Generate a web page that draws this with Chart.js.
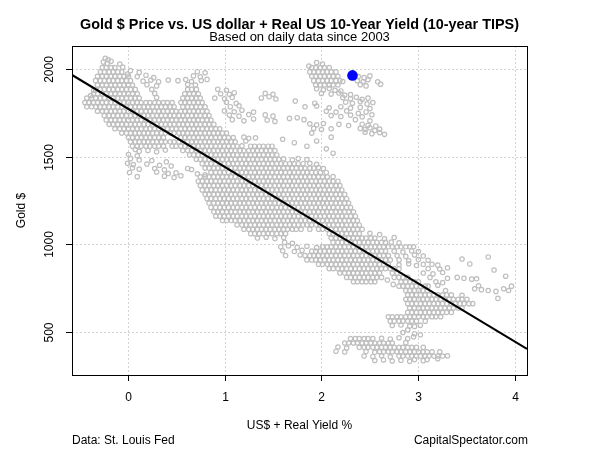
<!DOCTYPE html>
<html>
<head>
<meta charset="utf-8">
<script src="https://cdn.jsdelivr.net/npm/chart.js@4.4.1/dist/chart.umd.min.js"></script>
<style>
  html, body { margin: 0; padding: 0; background: #fff; }
</style>
</head>
<body>
<canvas id="gold_chart" width="600" height="450"></canvas>
<script>
// axes
const xTicks = [0, 1, 2, 3, 4];
const yTicks = [500, 1000, 1500, 2000];
const xRange = [-0.573, 4.12];
const yRange = [252, 2133];

// regression line + latest reading
const fitIntercept = 1776;
const fitSlope = -333.7;
const latestYield = [2.32];
const latestGold = [1965];

// dense part of the cloud, read row by row (gold level -> yields)
const rowGold = [2010, 1985, 1960, 1935, 1910, 1885, 1860, 1835, 1810, 1785, 1760, 1735, 1710, 1685, 1660, 1635, 1610, 1585, 1560, 1535,
  1510, 1485, 1460, 1435, 1410, 1385, 1360, 1335, 1310, 1285, 1260, 1235, 1210, 1185, 1160, 1135, 1110, 1085, 1060, 1035,
  1010, 985, 960, 935, 910, 885, 860, 835, 810, 785, 760, 735, 710, 685, 660, 635, 610, 585, 560, 460, 435, 410, 385, 360];
const rowYield = [
  [-0.26,-0.22,-0.17,-0.13,1.9,1.94,1.99,2.03,2.08],
  [-0.28,-0.24,-0.19,-0.15,-0.1,-0.06,1.88,1.92,1.97,2.01,2.06,2.1,2.15],
  [-0.31,-0.26,-0.22,-0.17,-0.13,-0.08,-0.04,0.01,1.9,1.94,1.99,2.03,2.08,2.12,2.17],
  [-0.33,-0.28,-0.24,-0.19,-0.15,-0.1,-0.06,-0.01,0.03,1.92,1.97,2.01,2.06,2.1,2.15,2.19],
  [-0.31,-0.26,-0.22,-0.17,-0.13,-0.08,-0.04,0.01,0.05,1.94,1.99,2.03,2.08,2.12],
  [-0.33,-0.28,-0.24,-0.19,-0.15,-0.1,-0.06,-0.01,0.03,0.08,0.62,0.66,0.71],
  [-0.35,-0.31,-0.26,-0.22,-0.17,-0.13,-0.08,-0.04,0.01,0.05,0.1,0.59,0.64,0.68,0.73],
  [-0.42,-0.37,-0.33,-0.28,-0.24,-0.19,-0.15,-0.1,-0.06,-0.01,0.03,0.08,0.12,0.57,0.62,0.66,0.71,0.75],
  [-0.44,-0.4,-0.35,-0.31,-0.26,-0.22,-0.17,-0.13,-0.08,-0.04,0.01,0.05,0.1,0.14,0.19,0.23,0.28,0.32,0.37,0.41,0.46,0.55,0.59,0.64,0.68,0.73,0.77],
  [-0.42,-0.37,-0.33,-0.28,-0.24,-0.19,-0.15,-0.1,-0.06,-0.01,0.03,0.08,0.12,0.17,0.21,0.26,0.3,0.35,0.39,0.44,0.48,0.57,0.62,0.66,0.71,0.75,0.8],
  [-0.31,-0.26,-0.22,-0.17,-0.13,-0.08,-0.04,0.01,0.05,0.1,0.14,0.19,0.23,0.28,0.32,0.37,0.41,0.46,0.5,0.55,0.59,0.64,0.68,0.73,0.77,0.82],
  [-0.24,-0.19,-0.15,-0.1,-0.06,-0.01,0.03,0.08,0.12,0.17,0.21,0.26,0.3,0.35,0.39,0.44,0.48,0.53,0.57,0.62,0.66,0.71,0.75,0.8,0.84],
  [-0.22,-0.17,-0.13,-0.08,-0.04,0.01,0.05,0.1,0.14,0.19,0.23,0.28,0.32,0.37,0.41,0.46,0.5,0.55,0.59,0.64,0.68,0.73,0.77,0.82,0.86],
  [-0.19,-0.15,-0.1,-0.06,-0.01,0.03,0.08,0.12,0.17,0.21,0.26,0.3,0.35,0.39,0.44,0.48,0.53,0.57,0.62,0.66,0.71,0.75,0.8,0.84,0.89],
  [-0.13,-0.08,-0.04,0.01,0.05,0.1,0.14,0.19,0.23,0.28,0.32,0.37,0.41,0.46,0.5,0.55,0.59,0.64,0.68,0.73,0.77,0.82,0.86,0.91,0.95],
  [-0.06,-0.01,0.03,0.08,0.12,0.17,0.21,0.26,0.3,0.35,0.39,0.44,0.48,0.53,0.57,0.62,0.66,0.71,0.75,0.8,0.84,0.89,0.93,0.98,1.02],
  [0.01,0.05,0.1,0.14,0.19,0.23,0.28,0.32,0.37,0.55,0.59,0.64,0.68,0.73,0.77,0.82,0.86,0.91,0.95,1.0,1.04,1.09],
  [0.03,0.08,0.12,0.17,0.21,0.26,0.3,0.35,0.39,0.44,0.48,0.53,0.57,0.62,0.66,0.71,0.75,0.8,0.84,0.89,0.93,0.98,1.02,1.07,1.11],
  [0.05,0.1,0.14,0.19,0.23,0.28,0.32,0.37,0.46,0.5,0.55,0.59,0.64,0.68,0.73,0.77,0.82,0.86,0.91,0.95,1.0,1.04,1.09,1.13,1.27,1.31,1.36,1.4,1.45,1.49],
  [0.57,0.62,0.66,0.71,0.75,0.8,0.84,0.89,0.93,0.98,1.02,1.07,1.11,1.16,1.2,1.25,1.29,1.34,1.38,1.43,1.47,1.52],
  [0.64,0.68,0.73,0.77,0.82,0.86,0.91,0.95,1.0,1.04,1.09,1.13,1.18,1.22,1.27,1.31,1.36,1.4,1.45,1.49,1.54],
  [0.71,0.75,0.8,0.84,0.89,0.93,0.98,1.02,1.07,1.11,1.16,1.2,1.25,1.29,1.34,1.38,1.43,1.47,1.52,1.56],
  [0.77,0.82,0.86,0.91,0.95,1.0,1.04,1.09,1.13,1.18,1.22,1.27,1.31,1.36,1.4,1.45,1.49,1.54,1.58,1.63,1.67,1.72,1.76,1.81],
  [0.8,0.84,0.89,0.93,0.98,1.02,1.07,1.11,1.16,1.2,1.25,1.29,1.34,1.38,1.43,1.47,1.52,1.56,1.61,1.65,1.7,1.74,1.79,1.83,1.88,1.92],
  [0.86,0.91,0.95,1.0,1.04,1.09,1.13,1.18,1.22,1.27,1.31,1.36,1.4,1.45,1.49,1.54,1.58,1.63,1.67,1.72,1.76,1.81,1.85,1.9,1.94,1.99],
  [0.75,0.8,0.84,0.89,0.93,0.98,1.02,1.07,1.11,1.16,1.2,1.25,1.29,1.34,1.38,1.43,1.47,1.52,1.56,1.61,1.65,1.7,1.74,1.79,1.83,1.88,1.92,1.97,2.01,2.06],
  [0.73,0.77,0.82,0.86,0.91,0.95,1.0,1.04,1.09,1.13,1.18,1.22,1.27,1.31,1.36,1.4,1.45,1.49,1.54,1.58,1.63,1.67,1.72,1.76,1.81,1.85,1.9,1.94,1.99,2.03,2.08,2.12,2.17],
  [0.75,0.8,0.84,0.89,0.93,0.98,1.02,1.07,1.11,1.16,1.2,1.25,1.29,1.34,1.38,1.43,1.47,1.52,1.56,1.61,1.65,1.7,1.74,1.79,1.83,1.88,1.92,1.97,2.01,2.06,2.1,2.15,2.19],
  [0.77,0.82,0.86,0.91,0.95,1.0,1.04,1.09,1.13,1.18,1.22,1.27,1.31,1.36,1.4,1.45,1.49,1.54,1.58,1.63,1.67,1.72,1.76,1.81,1.85,1.9,1.94,1.99,2.03,2.08,2.12,2.17,2.21],
  [0.8,0.84,0.89,0.93,0.98,1.02,1.07,1.11,1.16,1.2,1.25,1.29,1.34,1.38,1.43,1.47,1.52,1.56,1.61,1.65,1.7,1.74,1.79,1.83,1.88,1.92,1.97,2.01,2.06,2.1,2.15,2.19,2.24],
  [0.82,0.86,0.91,0.95,1.0,1.04,1.09,1.13,1.18,1.22,1.27,1.31,1.36,1.4,1.45,1.49,1.54,1.58,1.63,1.67,1.72,1.76,1.81,1.85,1.9,1.94,1.99,2.03,2.08,2.12,2.17,2.21,2.26],
  [0.84,0.89,0.93,0.98,1.02,1.07,1.11,1.16,1.2,1.25,1.29,1.34,1.38,1.43,1.47,1.52,1.56,1.61,1.65,1.7,1.74,1.79,1.83,1.88,1.92,1.97,2.01,2.06,2.1,2.15,2.19,2.24,2.28],
  [0.86,0.91,0.95,1.0,1.04,1.09,1.13,1.18,1.22,1.27,1.31,1.36,1.4,1.45,1.49,1.54,1.58,1.63,1.67,1.72,1.76,1.81,1.85,1.9,1.94,1.99,2.03,2.08,2.12,2.17,2.21,2.26,2.3],
  [0.89,0.93,0.98,1.02,1.07,1.11,1.16,1.2,1.25,1.29,1.34,1.38,1.43,1.47,1.52,1.56,1.61,1.65,1.7,1.74,1.79,1.83,1.88,1.92,1.97,2.01,2.06,2.1,2.15,2.19,2.24,2.28,2.33],
  [0.91,0.95,1.0,1.04,1.09,1.13,1.18,1.22,1.27,1.31,1.36,1.4,1.45,1.49,1.54,1.58,1.63,1.67,1.72,1.76,1.81,1.85,1.9,1.94,1.99,2.03,2.08,2.12,2.17,2.21,2.26,2.3,2.35],
  [0.98,1.02,1.07,1.11,1.16,1.2,1.25,1.29,1.34,1.38,1.43,1.47,1.52,1.56,1.61,1.65,1.7,1.74,1.79,1.83,1.88,1.92,1.97,2.01,2.06,2.1,2.15,2.19,2.24,2.28,2.33,2.37],
  [1.13,1.18,1.22,1.27,1.31,1.36,1.4,1.45,1.49,1.54,1.58,1.63,1.67,1.72,1.76,1.81,1.85,1.9,1.94,1.99,2.03,2.08,2.12,2.17,2.21,2.26,2.3,2.35,2.39],
  [1.2,1.25,1.29,1.34,1.38,1.43,1.47,1.52,1.56,1.61,1.65,1.7,1.74,1.79,1.88,1.97,2.01,2.06,2.1,2.15,2.19,2.24,2.28,2.33,2.37,2.42],
  [1.27,1.31,1.36,1.4,1.45,1.49,1.54,1.58,1.63,2.08,2.12,2.17,2.21,2.26,2.3,2.35,2.39],
  [2.1,2.15,2.19,2.24,2.28,2.33,2.37,2.42,2.46,2.51],
  [2.12,2.17,2.21,2.26,2.3,2.35,2.39,2.44,2.48,2.53,2.57,2.62,2.66],
  [2.01,2.06,2.1,2.15,2.19,2.24,2.28,2.33,2.37,2.42,2.46,2.51,2.55,2.6,2.64,2.69,2.73,2.78,2.82,2.87,2.91],
  [1.9,1.94,1.99,2.03,2.08,2.12,2.17,2.21,2.26,2.3,2.35,2.39,2.44,2.48,2.53,2.57,2.62,2.66],
  [1.83,1.88,1.92,1.97,2.01,2.06,2.1,2.15,2.19,2.24,2.28,2.33,2.37,2.42,2.46,2.51,2.55,2.6,2.64,2.69],
  [1.85,1.9,1.94,1.99,2.03,2.08,2.12,2.17,2.21,2.26,2.3,2.35,2.39,2.44,2.48,2.53,2.57,2.62,2.66,2.71],
  [1.97,2.01,2.06,2.1,2.15,2.19,2.24,2.28,2.33,2.37,2.42,2.46,2.51,2.55,2.6,2.64,2.69],
  [2.08,2.12,2.17,2.21,2.26,2.3,2.35,2.39,2.44,2.48,2.53,2.57,2.62,2.66,2.71,2.75,2.8],
  [2.19,2.24,2.28,2.33,2.37,2.42,2.46,2.51,2.55,2.6,2.73,2.78],
  [2.26,2.3,2.35,2.39,2.44,2.48,2.53,2.57,2.62,2.75,2.8,2.84,2.89],
  [2.33,2.37,2.42,2.46,2.51,2.55,2.82,2.87,2.91,2.96,3.0],
  [2.84,2.89,2.93,2.98,3.02,3.07],
  [2.87,2.91,2.96,3.0,3.05,3.09],
  [2.89,2.93,2.98,3.02,3.07,3.11,3.16,3.2,3.25,3.29,3.34],
  [2.87,2.91,2.96,3.0,3.05,3.09,3.14,3.18,3.23,3.27,3.32,3.36,3.41,3.45,3.5],
  [2.89,2.93,2.98,3.02,3.07,3.11,3.16,3.2,3.25,3.29,3.34,3.38,3.43,3.47,3.52,3.56],
  [2.91,2.96,3.0,3.05,3.09,3.14,3.18,3.23,3.27,3.32,3.36,3.41,3.45],
  [2.89,2.93,2.98,3.02,3.07,3.11,3.16,3.2,3.25,3.29,3.34],
  [2.69,2.73,2.78,2.82,2.87,2.91,2.96,3.0,3.05,3.09,3.14,3.18,3.23],
  [2.71,2.75,2.8,2.84,2.89,2.93,2.98],
  [2.3,2.35,2.39,2.44,2.48,2.53],
  [2.24,2.28,2.33,2.37,2.42,2.46,2.51,2.55,2.6,2.64,2.69,2.73],
  [2.39,2.44,2.48,2.53,2.57,2.62,2.66,2.71,2.75,2.8,2.84,2.89,2.93,2.98],
  [2.6,2.64,2.69,2.73,2.78,2.82,2.87,2.91,2.96,3.0,3.05,3.09,3.14],
  [2.8,2.84,2.89,2.93,2.98,3.02,3.07,3.11,3.16,3.2]
];

// scattered points outside the dense rows: [yield, gold]
const loosePoints = [
  [-0.23,2062],[-0.2,2054],[-0.25,2041],[-0.21,2033],[-0.17,2046],[-0.08,2030],[-0.05,2012],[0.0,1972],[0.03,1992],[0.12,1982],
  [0.1,1958],[0.19,1966],[0.27,1952],[0.16,1932],[0.24,1938],[0.32,1929],[0.2,1912],[0.3,1905],[0.25,1885],[0.28,1862],
  [0.3,1838],[0.42,1938],[0.52,1935],[0.6,1941],[0.66,1930],[0.76,1936],[0.82,1942],[0.72,1986],[0.8,1980],[0.68,1962],
  [0.75,1957],[0.7,1910],[0.62,1913],[0.93,1886],[1.02,1880],[0.96,1860],[1.05,1857],[1.1,1866],[0.9,1835],[1.0,1831],
  [1.08,1839],[1.02,1811],[1.12,1805],[1.06,1786],[1.15,1791],[1.0,1762],[1.1,1757],[1.18,1766],[1.3,1755],[1.05,1738],
  [1.15,1732],[1.25,1741],[1.08,1712],[1.2,1705],[1.3,1716],[1.42,1862],[1.5,1857],[1.38,1836],[1.46,1843],[1.53,1830],
  [1.73,1818],[1.93,1806],[1.42,1739],[1.5,1732],[1.44,1709],[1.52,1702],[1.67,1719],[1.75,1723],[1.82,1712],
  [-0.35,1880],[-0.38,1850],[1.18,1562],[1.22,1590],
  [0.01,1512],[0.1,1505],[0.03,1489],[0.12,1481],[0.25,1478],[0.4,1471],[0.0,1462],[0.06,1455],[0.2,1458],[0.33,1451],
  [0.45,1447],[0.05,1436],[0.12,1429],[0.28,1432],[0.38,1425],[0.62,1433],[0.66,1427],[0.02,1410],[0.3,1413],[0.42,1404],
  [0.5,1408],[0.72,1402],[0.8,1397],[0.1,1386],[0.38,1389],[0.48,1381],[0.55,1391],[0.08,1541],[0.12,1531],[0.21,1536],
  [0.3,1528],[0.39,1538],
  [1.95,2038],[2.01,2030],[1.87,2018],[2.38,1958],[2.44,1952],[2.5,1962],[2.37,1935],[2.43,1930],[2.48,1940],[2.58,1928],
  [2.4,1912],[2.46,1905],[2.61,1915],[2.22,1930],[2.17,1910],[1.95,1888],[2.02,1882],[2.08,1890],[2.14,1880],[2.2,1876],
  [2.0,1862],[2.1,1858],[2.18,1864],[2.24,1852],[2.3,1855],[2.22,1838],[2.3,1832],[2.36,1840],[2.42,1828],[2.48,1835],
  [2.25,1812],[2.32,1806],[2.4,1815],[2.47,1802],[2.53,1810],[1.83,1785],[1.95,1790],[2.08,1780],[2.2,1786],[2.3,1778],
  [2.4,1782],[2.5,1775],[2.05,1760],[2.15,1755],[2.26,1762],[2.38,1748],[2.46,1756],[2.1,1735],[2.2,1730],[2.3,1738],
  [2.42,1728],[2.52,1740],[2.35,1712],[2.5,1705],[1.88,1688],[1.95,1682],[2.02,1690],[2.18,1685],[2.28,1678],[2.42,1686],
  [2.48,1680],[2.56,1676],[1.92,1662],[2.0,1655],[2.1,1660],[2.4,1662],[2.45,1655],[2.5,1665],[2.55,1650],[2.6,1658],
  [1.9,1635],[2.45,1640],[2.52,1632],[2.6,1638],[2.65,1628],[2.1,1612],[1.2,1612],[1.25,1605],[1.32,1608],
  [1.61,1488],[1.7,1482],[1.76,1490],[1.85,1484],[1.88,1462],[1.95,1456],[1.97,1438],[2.02,1432],[2.05,1410],[2.12,1386],
  [1.6,1600],[1.72,1580],[1.85,1560],[1.95,1590],[2.05,1545],[2.12,1520],
  [2.5,1062],[2.6,1055],[1.34,1035],[1.43,1040],[1.52,1032],[1.61,1038],[2.55,1035],[2.65,1030],[2.75,1038],[1.62,1010],
  [1.7,1005],[2.72,1012],[2.8,1008],[1.58,985],[1.66,990],[1.75,982],[1.85,988],[1.95,980],[2.95,985],[1.6,962],
  [1.72,958],[1.8,965],[2.75,960],[2.84,955],[2.93,962],[3.0,958],[1.63,935],[1.78,938],[2.78,935],[2.87,930],
  [2.96,938],[3.05,932],[2.8,910],[2.9,905],[3.0,912],[3.1,908],[3.45,915],[2.8,882],[2.9,888],[2.98,878],
  [3.05,885],[3.14,885],[3.2,880],[3.53,887],[3.1,860],[3.22,858],[3.3,865],[3.78,852],[3.05,835],[3.15,830],
  [3.25,838],[2.68,795],[2.74,770],[2.8,760],[3.12,810],[3.3,805],[3.4,810],[3.47,805],[3.55,800],
  [3.6,802],[3.9,817],[3.72,927],[3.18,785],[3.25,780],[3.1,760],[3.2,765],[3.62,762],
  [3.96,760],[3.28,735],[3.58,745],[3.65,740],[3.72,735],[3.8,730],[3.88,745],[3.93,735],[3.45,708],[3.82,690],
  [3.07,560],[2.73,535],[2.82,538],[2.91,532],[2.96,530],[3.02,536],[2.89,510],[2.84,495],[2.96,488],[3.02,482],[2.71,458],
  [2.62,462],[2.8,465],[2.89,460],[2.95,470],[2.87,437],[2.17,412],[2.26,406],[2.15,388],[2.24,384],[2.46,386],[2.55,382],
  [2.44,360],[2.53,358],[2.62,362],[2.71,356],[2.55,335],[2.64,338],[2.73,332],[2.82,336],[2.91,330],[2.96,340],[3.05,334],
  [3.09,340],[3.2,345],[3.25,360],[3.3,362],[3.22,385],[3.05,410]
];

const cloud = [];
rowGold.forEach((g, i) => {
  rowYield[i].forEach(v => cloud.push({x: v, y: g}));
});
loosePoints.forEach(p => cloud.push({x: p[0], y: p[1]}));

const fitLine = xRange.map(v => ({x: v, y: fitIntercept + fitSlope * v}));
const latest = latestYield.map((v, i) => ({x: v, y: latestGold[i]}));

const FONT = '"Liberation Sans", Arial, sans-serif';

// R-style frame, grid, ticks and text
const rFrame = {
  id: 'rFrame',
  beforeDatasetsDraw(chart) {
    const {ctx, chartArea: a, scales: {x, y}} = chart;
    ctx.save();
    ctx.strokeStyle = '#D3D3D3';
    ctx.lineWidth = 1;
    ctx.setLineDash([2, 2]);
    xTicks.forEach(t => {
      const px = Math.round(x.getPixelForValue(t)) + 0.5;
      ctx.beginPath(); ctx.moveTo(px, a.top); ctx.lineTo(px, a.bottom); ctx.stroke();
    });
    yTicks.forEach(t => {
      const py = Math.round(y.getPixelForValue(t)) + 0.5;
      ctx.beginPath(); ctx.moveTo(a.left, py); ctx.lineTo(a.right, py); ctx.stroke();
    });
    ctx.restore();
  },
  afterDatasetsDraw(chart) {
    const {ctx, chartArea: a, scales: {x, y}} = chart;
    const midX = (a.left + a.right) / 2;
    ctx.save();
    ctx.strokeStyle = '#000';
    ctx.lineWidth = 1;
    ctx.strokeRect(Math.round(a.left) + 0.5, Math.round(a.top) + 0.5,
      Math.round(a.right - a.left), Math.round(a.bottom - a.top));

    ctx.fillStyle = '#000';
    ctx.font = '12px ' + FONT;
    ctx.textAlign = 'center';
    ctx.textBaseline = 'middle';
    xTicks.forEach(t => {
      const px = Math.round(x.getPixelForValue(t)) + 0.5;
      ctx.beginPath(); ctx.moveTo(px, a.bottom); ctx.lineTo(px, a.bottom + 6); ctx.stroke();
      ctx.fillText(String(t), px, 398);
    });
    yTicks.forEach(t => {
      const py = Math.round(y.getPixelForValue(t)) + 0.5;
      ctx.beginPath(); ctx.moveTo(a.left, py); ctx.lineTo(a.left - 6, py); ctx.stroke();
      ctx.save();
      ctx.translate(50, py);
      ctx.rotate(-Math.PI / 2);
      ctx.fillText(String(t), 0, 0);
      ctx.restore();
    });

    ctx.font = 'bold 14.4px ' + FONT;
    ctx.fillText('Gold $ Price vs. US dollar + Real US 10-Year Yield (10-year TIPS)', midX, 25);
    ctx.font = '13px ' + FONT;
    ctx.fillText('Based on daily data since 2003', midX, 37.5);
    ctx.font = '12px ' + FONT;
    ctx.fillText('US$ + Real Yield %', midX, 426);

    ctx.save();
    ctx.translate(22, (a.top + a.bottom) / 2);
    ctx.rotate(-Math.PI / 2);
    ctx.fillText('Gold $', 0, 0);
    ctx.restore();

    ctx.textAlign = 'left';
    ctx.fillText('Data: St. Louis Fed', a.left, 441);
    ctx.textAlign = 'right';
    ctx.fillText('CapitalSpectator.com', a.right + 1, 441);
    ctx.restore();
  }
};

new Chart(document.getElementById('gold_chart'), {
  type: 'scatter',
  data: {
    datasets: [
      {
        label: 'latest',
        data: latest,
        order: 1,
        pointRadius: 5.3,
        pointBackgroundColor: '#0000FF',
        pointBorderColor: '#0000FF',
        pointBorderWidth: 0
      },
      {
        label: 'fit',
        type: 'line',
        data: fitLine,
        order: 2,
        borderColor: '#000',
        borderWidth: 2.2,
        pointRadius: 0,
        fill: false
      },
      {
        label: 'daily',
        data: cloud,
        order: 3,
        pointRadius: 2.2,
        pointBorderWidth: 1.2,
        pointBorderColor: '#BEBEBE',
        pointBackgroundColor: 'rgba(0,0,0,0)'
      }
    ]
  },
  options: {
    responsive: false,
    animation: false,
    events: [],
    layout: { padding: { left: 72, right: 73, top: 46, bottom: 75 } },
    scales: {
      x: { type: 'linear', min: xRange[0], max: xRange[1], display: false },
      y: { type: 'linear', min: yRange[0], max: yRange[1], display: false }
    },
    plugins: {
      legend: { display: false },
      tooltip: { enabled: false }
    }
  },
  plugins: [rFrame]
});
</script>
</body>
</html>
